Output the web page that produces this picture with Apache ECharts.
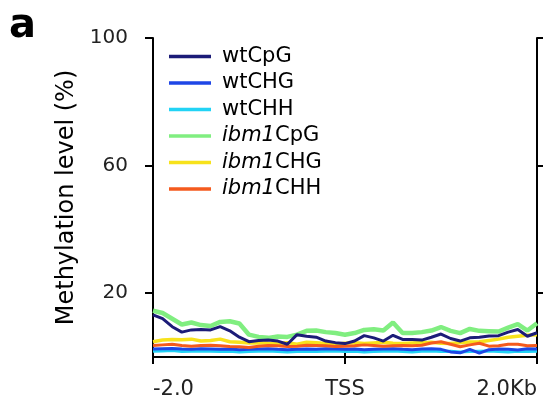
<!DOCTYPE html>
<html>
<head>
<meta charset="utf-8">
<script src="https://cdn.jsdelivr.net/npm/echarts@6/dist/echarts.min.js"></script>
<style>html,body{margin:0;padding:0;background:#fff}#c{width:545px;height:405px}</style>
</head>
<body>
<div id="c"></div>
<script>
// positions from -2.0 kb to +2.0 kb around TSS (41 bins)
const positions = [];
for (let i = 0; i <= 40; i++) positions.push((-2 + i * 0.1).toFixed(1));
const xTickLabels = { '-2.0': '-2.0', '0.0': 'TSS', '2.0': '2.0Kb' };
const yTickValues = [20, 60, 100];

const wtCpG   = [13.2,12,9.5,7.8,8.5,8.6,8.5,9.5,8.2,6.2,4.8,5.2,5.3,5,4,7,6.5,6.2,5,4.5,4.2,5,6.7,6,5,6.8,5.5,5.5,5.3,6.2,7.2,5.8,5,6,6.2,6.6,6.7,7.8,8.6,6.5,7.6];
const wtCHG   = [2.5,2.6,2.7,2.5,2.4,2.6,2.5,2.4,2.5,2.3,2.4,2.5,2.6,2.4,2.3,2.4,2.5,2.4,2.6,2.5,2.4,2.5,2.3,2.4,2.5,2.6,2.4,2.3,2.5,2.6,2.4,1.6,1.3,2.4,1.2,2.3,2.5,2.4,2.2,2.6,2.5];
const wtCHH   = [1.8,1.9,2,1.7,1.8,1.9,1.8,1.7,1.8,1.6,1.7,1.8,1.9,1.7,1.6,1.7,1.8,1.7,1.8,1.9,1.7,1.8,1.6,1.7,1.8,1.9,1.7,1.6,1.8,1.9,1.7,1.8,1.6,1.7,1.8,1.9,1.7,1.6,1.8,1.7,1.8];
const ibm1CpG = [14.5,13.8,12,10.2,10.8,10,9.7,11,11.2,10.5,7,6.3,6,6.4,6.3,7,8.2,8.3,7.8,7.5,7,7.5,8.5,8.7,8.3,10.8,7.5,7.5,7.8,8.3,9.4,8.2,7.5,8.8,8.2,8.1,8,9.2,10.3,8.3,10.6];
const ibm1CHG = [4.8,5.3,5.5,5.4,5.6,5,5.2,5.6,4.8,4.6,4.4,4.5,4.3,4.2,4.5,4,4.6,4.5,4.2,4,4.3,4.5,4.2,4.4,4.6,4.3,4.2,4.4,4.5,4.6,4.3,4.2,4.5,4.7,4.8,5.2,5.6,6.2,6.5,6.8,7];
const ibm1CHH = [3.6,3.8,4,3.6,3.4,3.6,3.7,3.5,3.3,3.2,3,3.4,3.6,3.5,3.3,3.4,3.7,3.6,3.5,3.3,3.4,3.5,3.8,3.6,3.4,3.5,3.6,3.5,3.7,4.4,4.8,4,3.2,3.8,4.3,3.4,3.5,4,4,3.5,3.6];

const seriesDefs = [
  { name: 'wtCpG',   data: wtCpG,   color: '#1c1c78', width: 3,   z: 8 },
  { name: 'wtCHG',   data: wtCHG,   color: '#1e46e6', width: 3,   z: 5 },
  { name: 'wtCHH',   data: wtCHH,   color: '#22d3f5', width: 3,   z: 4 },
  { name: 'ibm1CpG', data: ibm1CpG, color: '#80ee80', width: 4.5, z: 3 },
  { name: 'ibm1CHG', data: ibm1CHG, color: '#f7e21c', width: 3.5, z: 6 },
  { name: 'ibm1CHH', data: ibm1CHH, color: '#f45a1e', width: 3,   z: 7 }
];

const FONT = 'DejaVu Sans';
const chart = echarts.init(document.getElementById('c'), null, { renderer: 'canvas' });
const showTick = (i, v) => xTickLabels[v] !== undefined;

chart.setOption({
  animation: false,
  backgroundColor: '#ffffff',
  title: {
    text: 'a', left: 4, top: 2,
    textStyle: { fontFamily: FONT, fontWeight: 'bold', fontSize: 40, color: '#000' }
  },
  grid: { left: 153, right: 8, top: 38, bottom: 48, containLabel: false },
  legend: {
    orient: 'vertical', left: 164, top: 41,
    icon: 'rect', itemWidth: 42, itemHeight: 3.5, itemGap: 5.5,
    data: seriesDefs.map(s => s.name),
    formatter: name => name.startsWith('ibm1') ? '{i|ibm1}' + name.slice(4) : name,
    textStyle: {
      fontFamily: FONT, fontSize: 21, lineHeight: 21, color: '#000', padding: [0, 0, 0, 6],
      rich: { i: { fontFamily: FONT, fontSize: 21, fontStyle: 'italic', color: '#000', lineHeight: 21 } }
    }
  },
  xAxis: [{
    type: 'category', data: positions, boundaryGap: false, position: 'bottom',
    axisLine: { show: true, lineStyle: { color: '#000', width: 2 } },
    axisTick: { show: true, length: 7, interval: showTick, lineStyle: { color: '#000', width: 2 } },
    axisLabel: {
      interval: showTick, margin: 22, formatter: v => xTickLabels[v] || '',
      fontFamily: FONT, fontSize: 21, color: '#222',
      alignMinLabel: 'left', alignMaxLabel: 'right'
    },
    splitLine: { show: false }
  }, {
    type: 'category', data: positions, boundaryGap: false, position: 'top',
    axisLine: { show: true, lineStyle: { color: '#000', width: 2 } },
    axisTick: { show: true, length: 5, interval: showTick, lineStyle: { color: '#000', width: 2 } },
    axisLabel: { show: false }, splitLine: { show: false }
  }],
  yAxis: [{
    type: 'value', min: 0, max: 100, position: 'left',
    name: 'Methylation level (%)', nameLocation: 'middle', nameGap: 70,
    nameTextStyle: { fontFamily: FONT, fontSize: 24, color: '#000' },
    axisLine: { show: true, lineStyle: { color: '#000', width: 2 } },
    axisTick: { show: true, length: 8, customValues: yTickValues, lineStyle: { color: '#000', width: 2 } },
    axisLabel: { customValues: yTickValues, margin: 25, fontFamily: FONT, fontSize: 20, color: '#222' },
    splitLine: { show: false }
  }, {
    type: 'value', min: 0, max: 100, position: 'right',
    axisLine: { show: true, lineStyle: { color: '#000', width: 2 } },
    axisTick: { show: true, length: 6, customValues: yTickValues, lineStyle: { color: '#000', width: 2 } },
    axisLabel: { show: false }, splitLine: { show: false }
  }],
  series: seriesDefs.map(s => ({
    name: s.name, type: 'line', data: s.data, xAxisIndex: 0, yAxisIndex: 0,
    showSymbol: false, symbol: 'none', smooth: false, z: s.z,
    color: s.color, lineStyle: { color: s.color, width: s.width }
  }))
});
</script>
</body>
</html>
